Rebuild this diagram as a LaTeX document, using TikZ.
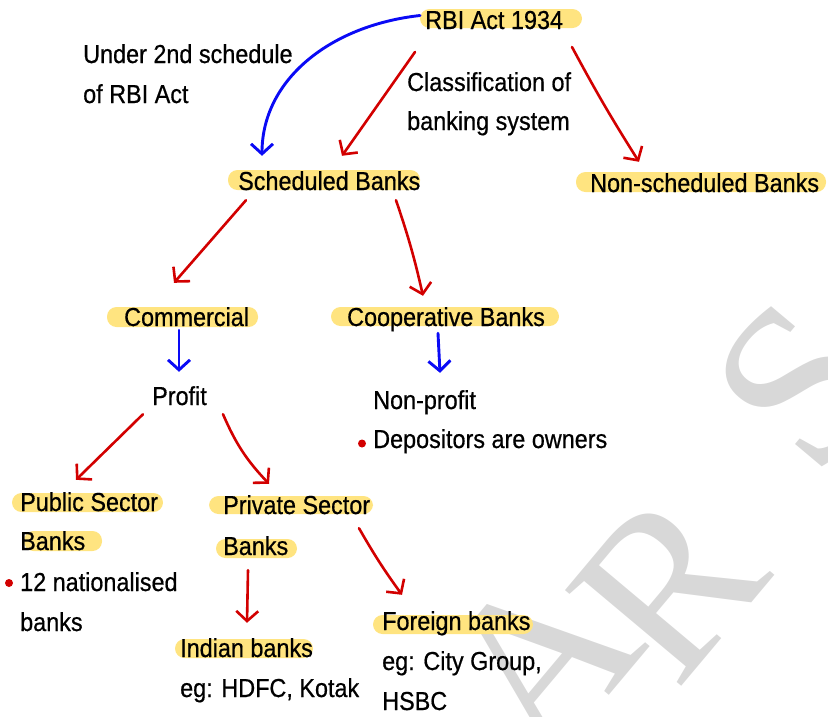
\documentclass[tikz,border=0pt]{standalone}
\usepackage{fontspec}
\setmainfont{Liberation Sans}[FakeStretch=0.9,FakeBold=0.6]
\newfontfamily\wmfont{Liberation Serif}
\usetikzlibrary{arrows.meta}
\definecolor{hlyellow}{RGB}{255,228,128}
\definecolor{penred}{RGB}{210,0,0}
\definecolor{penblue}{RGB}{10,10,245}
\definecolor{wmgray}{RGB}{216,216,216}
\tikzset{
  txt/.style={anchor=base west, inner sep=0pt, text height=19pt, text depth=6pt, font=\fontsize{26}{30}\selectfont},
  redarr/.style={draw=penred, line width=2.6pt, line cap=round, line join=round, -{Straight Barb[length=10pt,width=22pt]}},
  bluearr/.style={draw=penblue, line width=2.9pt, line cap=round, line join=round, -{Straight Barb[length=10pt,width=22pt]}},
  hlbar/.style={fill=hlyellow, rounded corners=9.5pt},
  wm/.style={text=wmgray, font=\wmfont\fontsize{230}{230}\selectfont, rotate=50, inner sep=0pt},
  bullet/.style={fill=penred}
}
\newcommand\hlb[4]{\fill[hlbar] (#1,#4) rectangle (#2,#3);}
\begin{document}
\begin{tikzpicture}[x=1pt,y=-1pt]
\useasboundingbox (0,0) rectangle (828,716);
% watermark
\begin{scope}
  \clip (0,0) rectangle (828,716);
  \node[wm] (wmA) at (540,660) {A};
  \node[wm] (wmR) at (668,585) {R};
  \node[wm] (wmS) at (800,385) {S};
\end{scope}
% highlight bars
\hlb{420}{582}{9}{28}
\hlb{228}{420}{170}{190}
\hlb{576}{826}{172}{192}
\hlb{107}{258}{307}{327}
\hlb{331}{559}{307}{326}
\hlb{12}{163}{493}{512}
\hlb{24}{102}{531}{551}
\hlb{209}{373}{496}{514}
\hlb{216}{297}{539}{558}
\hlb{175}{313}{639}{658}
\hlb{373}{533}{615}{634}
% texts
\node[txt] (rbi) at (425,29) {RBI Act 1934};
\node[txt] (under1) at (83,63) {Under 2nd schedule};
\node[txt] (under2) at (83,103) {of RBI Act};
\node[txt] (class1) at (407,91) {Classification of};
\node[txt] (class2) at (407,130) {banking system};
\node[txt] (sched) at (238,190) {Scheduled Banks};
\node[txt] (nonsched) at (590,192) {Non-scheduled Banks};
\node[txt] (comm) at (124,326) {Commercial};
\node[txt] (coop) at (347,326) {Cooperative Banks};
\node[txt] (profit) at (152,405) {Profit};
\node[txt] (nonprofit) at (373,409) {Non-profit};
\node[txt] (depos) at (373,448) {Depositors are owners};
\node[txt] (pub1) at (20,511) {Public Sector};
\node[txt] (pub2) at (20,550) {Banks};
\node[txt] (nat1) at (20,591) {12 nationalised};
\node[txt] (nat2) at (20,631) {banks};
\node[txt] (priv1) at (223,514) {Private Sector};
\node[txt] (priv2) at (223,555) {Banks};
\node[txt] (indian) at (180,657) {Indian banks};
\node[txt] (egind) at (180,697) {eg: HDFC, Kotak};
\node[txt] (foreign) at (382,630) {Foreign banks};
\node[txt] (egfor1) at (382,670) {eg: City Group,};
\node[txt] (egfor2) at (382,710) {HSBC};
% bullets
\fill[bullet] ([xshift=-11pt,yshift=4.5pt]depos.base west) circle (4pt);
\fill[bullet] ([xshift=-11pt,yshift=8pt]nat1.base west) circle (4pt);
% connectors
\draw[bluearr] ([xshift=-5pt,yshift=7pt]rbi.west) .. controls +(-90,10) and +(0,-76) .. ([xshift=24pt,yshift=15pt]sched.north west);
\draw[redarr] ([xshift=-10pt,yshift=-29.5pt]rbi.west) -- ([xshift=104pt,yshift=15pt]sched.north west);
\draw[redarr] ([xshift=147pt,yshift=-24.5pt]rbi.west) to[bend right=2] ([xshift=49pt,yshift=11pt]nonsched.north west);
\draw[redarr] ([xshift=8pt,yshift=-4pt]sched.south west) -- ([xshift=50pt,yshift=24pt]comm.north west);
\draw[redarr] ([xshift=158pt,yshift=-4pt]sched.south west) to[bend left=3] ([xshift=76pt,yshift=11pt]coop.north west);
\draw[bluearr] ([xshift=55pt,yshift=2pt]comm.south west) -- ([xshift=27pt,yshift=14pt]profit.north west);
\draw[bluearr] ([xshift=91pt,yshift=-1pt]coop.south west) -- ([xshift=67pt,yshift=17pt]nonprofit.north west);
\draw[redarr] ([xshift=-9pt,yshift=-3pt]profit.south west) -- ([xshift=56pt,yshift=12pt]pub1.north west);
\draw[redarr] ([xshift=71pt,yshift=-3pt]profit.south west) to[bend right=10] ([xshift=46pt,yshift=11pt]priv1.north west);
\draw[redarr] ([xshift=25pt,yshift=-9pt]priv2.south west) -- ([xshift=67pt,yshift=15pt]indian.north west);
\draw[redarr] ([xshift=136pt,yshift=-8pt]priv1.south west) to[bend right=3] ([xshift=20pt,yshift=16pt]foreign.north west);
\end{tikzpicture}
\end{document}
